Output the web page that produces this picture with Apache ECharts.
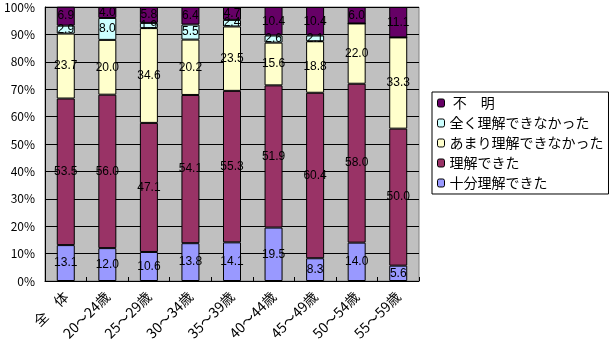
<!DOCTYPE html>
<html>
<head>
<meta charset="utf-8">
<script src="https://cdn.jsdelivr.net/npm/echarts@6/dist/echarts.min.js"></script>
<style>
  html, body { margin: 0; padding: 0; background: #fff; }
  #chart { width: 613px; height: 351px; }
</style>
</head>
<body>
<div id="chart"></div>
<script>
const categories = ['全　体', '20～24歳', '25～29歳', '30～34歳', '35～39歳', '40～44歳', '45～49歳', '50～54歳', '55～59歳'];

// 下から積み上げ
const juubun   = [13.1, 12.0, 10.6, 13.8, 14.1, 19.5, 8.3, 14.0, 5.6];
const rikai    = [53.5, 56.0, 47.1, 54.1, 55.3, 51.9, 60.4, 58.0, 50.0];
const amari    = [23.7, 20.0, 34.6, 20.2, 23.5, 15.6, 18.8, 22.0, 33.3];
const mattaku  = [2.9, 8.0, 1.9, 5.5, 2.4, 2.6, 2.1, 0, 0];
const fumei    = [6.9, 4.0, 5.8, 6.4, 4.7, 10.4, 10.4, 6.0, 11.1];

const yTicks = [0, 10, 20, 30, 40, 50, 60, 70, 80, 90, 100];

const seriesDefs = [
  { name: '十分理解できた', data: juubun, color: '#9999FF' },
  { name: '理解できた', data: rikai, color: '#993366' },
  { name: 'あまり理解できなかった', data: amari, color: '#FFFFCC' },
  { name: '全く理解できなかった', data: mattaku, color: '#CCFFFF' },
  { name: ' 不　明', data: fumei, color: '#660066' },
];

const chart = echarts.init(document.getElementById('chart'), null, { renderer: 'canvas' });

const option = {
  backgroundColor: '#ffffff',
  animation: false,
  textStyle: { fontFamily: '"Noto Sans CJK JP", sans-serif' },
  grid: {
    left: 45, right: 194, top: 7, bottom: 70,
    show: true,
    backgroundColor: '#C0C0C0',
    borderColor: '#808080',
    borderWidth: 1
  },
  legend: {
    orient: 'vertical',
    left: 432, top: 92,
    data: seriesDefs.map(s => s.name).reverse(),
    itemWidth: 7, itemHeight: 8,
    itemGap: 6,
    itemStyle: { borderColor: '#000', borderWidth: 1 },
    textStyle: { fontSize: 14, color: '#000', fontFamily: '"Noto Sans CJK JP", sans-serif' },
    backgroundColor: '#fff',
    borderColor: '#000',
    borderWidth: 1,
    padding: [4, 5, 4, 5],
    selectedMode: false
  },
  xAxis: {
    type: 'category',
    data: categories,
    axisLine: { show: true, lineStyle: { color: '#000', width: 1 } },
    axisTick: { show: true, inside: true, length: 4, lineStyle: { color: '#000' } },
    axisLabel: {
      rotate: 45, margin: 13, color: '#000', fontSize: 14,
      fontFamily: '"Noto Sans CJK JP", sans-serif', interval: 0
    }
  },
  yAxis: {
    type: 'value',
    min: yTicks[0], max: yTicks[yTicks.length - 1], interval: 10,
    axisLine: { show: true, lineStyle: { color: '#000' } },
    axisTick: { show: false },
    axisLabel: { formatter: '{value}%', color: '#000', fontSize: 12, margin: 10 },
    splitLine: { show: true, lineStyle: { color: '#000', width: 1 } }
  },
  series: seriesDefs.map(s => ({
    name: s.name,
    type: 'bar',
    stack: 'total',
    barWidth: 18,
    data: s.data,
    itemStyle: { color: s.color, borderColor: '#000', borderWidth: 1 },
    label: {
      show: true,
      position: 'inside',
      color: '#000',
      fontSize: 12,
      fontFamily: 'sans-serif',
      formatter: p => (p.value ? p.value.toFixed(1) : '')
    }
  }))
};

chart.setOption(option);
</script>
</body>
</html>
